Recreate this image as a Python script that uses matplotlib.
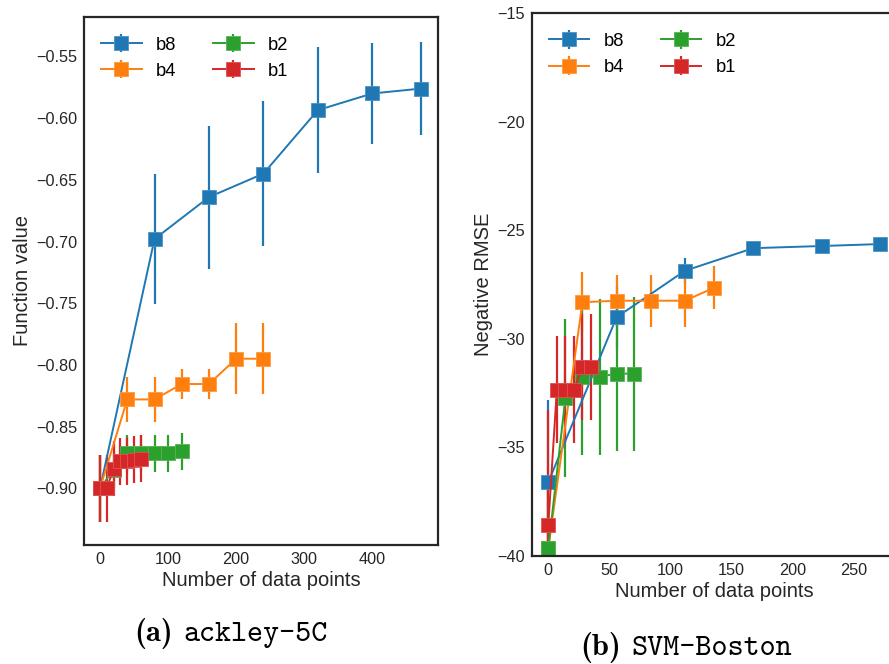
import os
import matplotlib
matplotlib.use("Agg")
import matplotlib.pyplot as plt
from matplotlib.colors import to_rgb
from matplotlib.font_manager import FontProperties
from matplotlib.ticker import FuncFormatter

# ---------------- ackley-5C ----------------
ack_b8_x = [0, 80, 160, 240, 320, 400, 472]
ack_b8_y = [-0.900, -0.698, -0.664, -0.645, -0.5935, -0.580, -0.576]
ack_b8_err = [0.027, 0.053, 0.058, 0.059, 0.051, 0.041, 0.038]

ack_b4_x = [0, 40, 80, 120, 160, 200, 240]
ack_b4_y = [-0.900, -0.828, -0.828, -0.8155, -0.8155, -0.795, -0.795]
ack_b4_err = [0.027, 0.018, 0.018, 0.012, 0.012, 0.029, 0.029]

ack_b2_x = [0, 20, 40, 60, 80, 100, 120]
ack_b2_y = [-0.900, -0.885, -0.8715, -0.8715, -0.8715, -0.8715, -0.870]
ack_b2_err = [0.027, 0.015, 0.015, 0.015, 0.015, 0.015, 0.015]

ack_b1_x = [0, 10, 20, 30, 40, 50, 60]
ack_b1_y = [-0.900, -0.900, -0.884, -0.878, -0.878, -0.877, -0.876]
ack_b1_err = [0.027, 0.027, 0.022, 0.019, 0.019, 0.019, 0.019]

# ---------------- SVM-Boston ----------------
svm_b8_x = [0, 56, 112, 168, 224, 272]
svm_b8_y = [-36.6, -29.0, -26.86, -25.82, -25.72, -25.63]
svm_b8_err = [3.8, 1.45, 0.6, 0.1, 0.1, 0.1]

svm_b4_x = [0, 28, 56, 84, 112, 136]
svm_b4_y = [-39.65, -28.31, -28.24, -28.24, -28.24, -27.64]
svm_b4_err = [3.0, 1.4, 1.2, 1.2, 1.2, 1.0]

svm_b2_x = [0, 14, 28, 42, 56, 70]
svm_b2_y = [-39.65, -32.73, -31.74, -31.74, -31.6, -31.6]
svm_b2_err = [3.0, 3.64, 3.6, 3.6, 3.55, 3.55]

svm_b1_x = [0, 7, 14, 21, 28, 35]
svm_b1_y = [-38.58, -32.34, -32.34, -32.34, -31.29, -31.29]
svm_b1_err = [5.3, 2.47, 2.47, 2.47, 2.44, 2.44]

labels = ["b8", "b4", "b2", "b1"]
colors = ["#1f77b4", "#ff7f0e", "#2ca02c", "#d62728"]

plt.rcParams["font.family"] = ["Liberation Sans", "DejaVu Sans"]
dark = "#262626"

fig = plt.figure(figsize=(8.89, 6.64), dpi=100)
W, H = 889, 664


def px_axes(left, top, right, bottom):
    return fig.add_axes([left / W, 1 - bottom / H, (right - left) / W, (bottom - top) / H])


def lighten(c, f=0.2):
    r, g, b = to_rgb(c)
    return (r + (1 - r) * f, g + (1 - g) * f, b + (1 - b) * f)


def style(ax, xlabel, ylabel):
    for s in ax.spines.values():
        s.set_color(dark)
        s.set_linewidth(1.6)
    ax.tick_params(length=0, labelsize=11.7, colors=dark, pad=5)
    ax.set_xlabel(xlabel, fontsize=14.5, color=dark, labelpad=3)
    ax.set_ylabel(ylabel, fontsize=14.5, color=dark, labelpad=3)


def draw(ax, series, plot_h):
    for (x, y, e), lab, c in zip(series, labels, colors):
        ax.errorbar(x, y, yerr=e, marker="s", markersize=10, color=c,
                    mec=lighten(c), mew=0.6,
                    linewidth=1.4, elinewidth=1.6, capsize=0, label=lab)
    ax.legend(loc="upper left", ncol=2, frameon=False, fontsize=13.2,
              handlelength=2.2, columnspacing=2.0,
              bbox_to_anchor=(0.002, 1 - 3.0 / plot_h))


ax1 = px_axes(84, 17, 438, 545)
draw(ax1, [(ack_b8_x, ack_b8_y, ack_b8_err), (ack_b4_x, ack_b4_y, ack_b4_err),
           (ack_b2_x, ack_b2_y, ack_b2_err), (ack_b1_x, ack_b1_y, ack_b1_err)], 528)
ax1.set_xlim(-23.6, 496.6)
ax1.set_ylim(-0.946, -0.518)
ax1.set_xticks([0, 100, 200, 300, 400])
ax1.set_yticks([-0.90, -0.85, -0.80, -0.75, -0.70, -0.65, -0.60, -0.55])
ax1.yaxis.set_major_formatter(FuncFormatter(lambda v, p: f"{v:.2f}".replace("-", "\u2212")))
style(ax1, "Number of data points", "Function value")

ax2 = px_axes(531.7, 13.3, 896.7, 556)
draw(ax2, [(svm_b8_x, svm_b8_y, svm_b8_err), (svm_b4_x, svm_b4_y, svm_b4_err),
           (svm_b2_x, svm_b2_y, svm_b2_err), (svm_b1_x, svm_b1_y, svm_b1_err)], 543)
ax2.set_xlim(-13.6, 285.6)
ax2.set_ylim(-40, -15)
ax2.set_xticks([0, 50, 100, 150, 200, 250])
ax2.set_yticks([-40, -35, -30, -25, -20, -15])
style(ax2, "Number of data points", "Negative RMSE")

# sub-figure captions: bold serif tag + typewriter name
ttf_dir = os.path.join(matplotlib.get_data_path(), "fonts", "ttf")
bold_fp = FontProperties(fname=os.path.join(ttf_dir, "cmb10.ttf"), size=22)
tt_fp = FontProperties(fname=os.path.join(ttf_dir, "cmtt10.ttf"), size=22)

fig.text(173 / W, 1 - 641 / H, "(a)", fontproperties=bold_fp, ha="right", va="baseline")
fig.text(183 / W, 1 - 641 / H, "ackley-5C", fontproperties=tt_fp, ha="left", va="baseline")
fig.text(621 / W, 1 - 655 / H, "(b)", fontproperties=bold_fp, ha="right", va="baseline")
fig.text(631 / W, 1 - 655 / H, "SVM-Boston", fontproperties=tt_fp, ha="left", va="baseline")

fig.savefig("out.png", dpi=100)
